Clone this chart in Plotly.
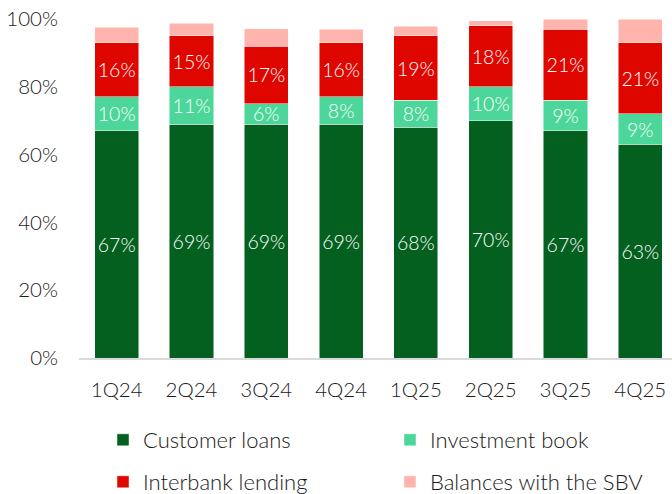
import plotly.graph_objects as go

quarters = ["1Q24", "2Q24", "3Q24", "4Q24", "1Q25", "2Q25", "3Q25", "4Q25"]
customer_loans = [67, 69, 69, 69, 68, 70, 67, 63]
investment_book = [10, 11, 6, 8, 8, 10, 9, 9]
interbank_lending = [16, 15, 17, 16, 19, 18, 21, 21]
balances_sbv = [4.5, 3.7, 5.1, 4.0, 2.9, 1.5, 3.0, 7.0]

series = [
    ("Customer loans", customer_loans, "#04601F", True, "legend"),
    ("Investment book", investment_book, "#4CD699", True, "legend2"),
    ("Interbank lending", interbank_lending, "#E00600", True, "legend3"),
    ("Balances with the SBV", balances_sbv, "#FFB4AE", False, "legend4"),
]

FONT = "Lato"
WEIGHT = 300
W, H = 672, 494

fig = go.Figure()
for name, vals, color, labelled, leg in series:
    fig.add_trace(go.Bar(
        name=name,
        x=quarters,
        y=[v / 100 for v in vals],
        marker=dict(color=color, line=dict(color="rgba(255,255,255,0.6)", width=0.8)),
        text=[f"{v:.0f}%" for v in vals] if labelled else None,
        textposition="inside" if labelled else "none",
        insidetextanchor="middle",
        textangle=0,
        textfont=dict(family=FONT, size=19.5, color="white", weight=WEIGHT),
        legend=leg,
        hoverinfo="name+y",
    ))

# one legend per entry, laid out in a 2x2 grid under the axis
legend_pos = {
    "legend": (103, 440),
    "legend2": (390, 440),
    "legend3": (103, 482),
    "legend4": (390, 482),
}
legend_layout = {}
for key, (px, py) in legend_pos.items():
    legend_layout[key] = dict(
        xref="container", yref="container",
        x=px / W, y=1 - py / H,
        xanchor="left", yanchor="middle",
        orientation="h",
        bgcolor="rgba(0,0,0,0)",
        font=dict(family=FONT, size=22, color="#1a1a1a", weight=WEIGHT),
        itemclick=False, itemdoubleclick=False,
    )

fig.update_layout(
    width=W, height=H,
    barmode="stack",
    bargap=0.41,
    plot_bgcolor="white",
    paper_bgcolor="white",
    margin=dict(l=79, r=0, t=19, b=136),
    font=dict(family=FONT, size=20, color="#1a1a1a", weight=WEIGHT),
    uniformtext=dict(minsize=19, mode="show"),
    showlegend=True,
    **legend_layout,
)

fig.update_xaxes(
    type="category",
    range=[-0.504, 7.424],
    showgrid=False,
    showline=True, linecolor="#D9D9D9", linewidth=1.5,
    ticks="", ticklabelstandoff=13,
    tickfont=dict(family=FONT, size=20.5, color="#1a1a1a", weight=WEIGHT),
)
fig.update_yaxes(
    range=[0, 1],
    tickvals=[0, 0.2, 0.4, 0.6, 0.8, 1.0],
    tickformat=".0%",
    showgrid=False, zeroline=False, showline=False,
    ticks="", ticklabelstandoff=20,
    tickfont=dict(family=FONT, size=20.5, color="#1a1a1a", weight=WEIGHT),
)

fig.write_html("out.html")
